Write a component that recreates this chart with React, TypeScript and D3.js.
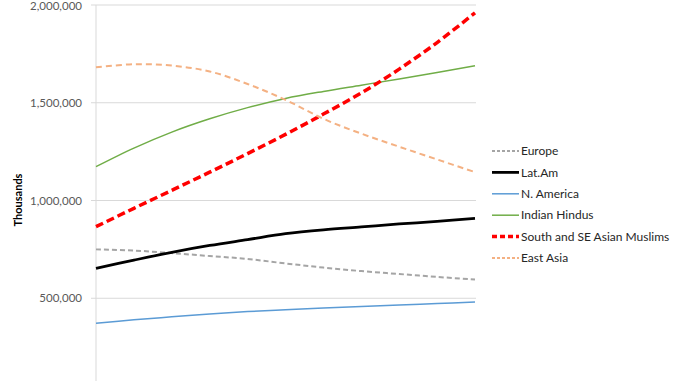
import React from "react";
import * as d3 from "d3";

const years = [2000, 2010, 2020, 2030, 2040, 2050, 2060, 2070, 2080, 2090, 2100];
const europe = [750000, 744000, 731000, 716000, 701000, 678000, 657000, 639000, 624000, 609000, 596000];
const latAm = [653000, 695000, 735000, 770000, 800000, 830000, 850000, 865000, 880000, 893000, 909000];
const nAmerica = [372000, 390000, 405000, 420000, 432000, 441000, 450000, 458000, 465000, 473000, 481000];
const indianHindus = [1173000, 1268000, 1350000, 1418000, 1475000, 1522000, 1558000, 1590000, 1622000, 1655000, 1689000];
const muslims = [866000, 960000, 1052000, 1145000, 1240000, 1338000, 1442000, 1550000, 1672000, 1808000, 1960000];
const eastAsia = [1681000, 1697000, 1690000, 1660000, 1596000, 1515000, 1418000, 1342000, 1275000, 1210000, 1145000];
const yTicks = [500000, 1000000, 1500000, 2000000];

const seriesNames = ["Europe", "Lat.Am", "N. America", "Indian Hindus", "South and SE Asian Muslims", "East Asia"];
const seriesValues = [europe, latAm, nAmerica, indianHindus, muslims, eastAsia];
const styles = [
  { color: "#a5a5a5", width: 2, dash: "5,3" },
  { color: "#000000", width: 2.75, dash: "" },
  { color: "#5b9bd5", width: 1.5, dash: "" },
  { color: "#70ad47", width: 1.5, dash: "" },
  { color: "#ff0000", width: 3.5, dash: "8,4" },
  { color: "#f4b183", width: 2, dash: "6,4" },
];

export default function App() {
  const W = 678, H = 381;
  const x = d3.scaleLinear().domain([years[0], years[years.length - 1]]).range([96, 475]);
  const y = d3.scaleLinear().domain([0, 2000000]).range([396, 5]);
  const line = d3
    .line<number>()
    .x((_, i) => x(years[i]))
    .y((d) => y(d))
    .curve(d3.curveCatmullRom.alpha(0.5));
  const font = "Lato, 'Open Sans', sans-serif";
  return (
    <svg width={W} height={H} style={{ position: "absolute", left: 0, top: 0, background: "#fff" }}>
      {yTicks.map((t) => (
        <g key={t}>
          <line x1={91} x2={476} y1={y(t)} y2={y(t)} stroke="#d9d9d9" strokeWidth={1} />
          <text x={82} y={Math.max(y(t), 6)} dy="0.35em" textAnchor="end" fontSize={11.5} fill="#595959" fontFamily={font}>
            {d3.format(",")(t)}
          </text>
        </g>
      ))}
      <line x1={96} x2={96} y1={y(2000000)} y2={H} stroke="#d9d9d9" strokeWidth={1} />
      <text
        transform={`translate(22,200) rotate(-90)`}
        textAnchor="middle"
        fontSize={11}
        fontWeight="bold"
        fill="#000"
        fontFamily={font}
      >
        Thousands
      </text>
      {seriesValues.map((vals, i) => (
        <path
          key={seriesNames[i]}
          d={line(vals) || ""}
          fill="none"
          stroke={styles[i].color}
          strokeWidth={styles[i].width}
          strokeDasharray={styles[i].dash || undefined}
        />
      ))}
      {seriesNames.map((n, i) => {
        const ly = 151 + i * 21.4;
        return (
          <g key={n}>
            <line
              x1={492}
              x2={519}
              y1={ly}
              y2={ly}
              stroke={styles[i].color}
              strokeWidth={styles[i].width}
              strokeDasharray={styles[i].dash ? (i === 4 ? "5,3" : "3,2") : undefined}
            />
            <text x={521} y={ly} dy="0.35em" fontSize={12} fill="#262626" fontFamily={font}>
              {n}
            </text>
          </g>
        );
      })}
    </svg>
  );
}
